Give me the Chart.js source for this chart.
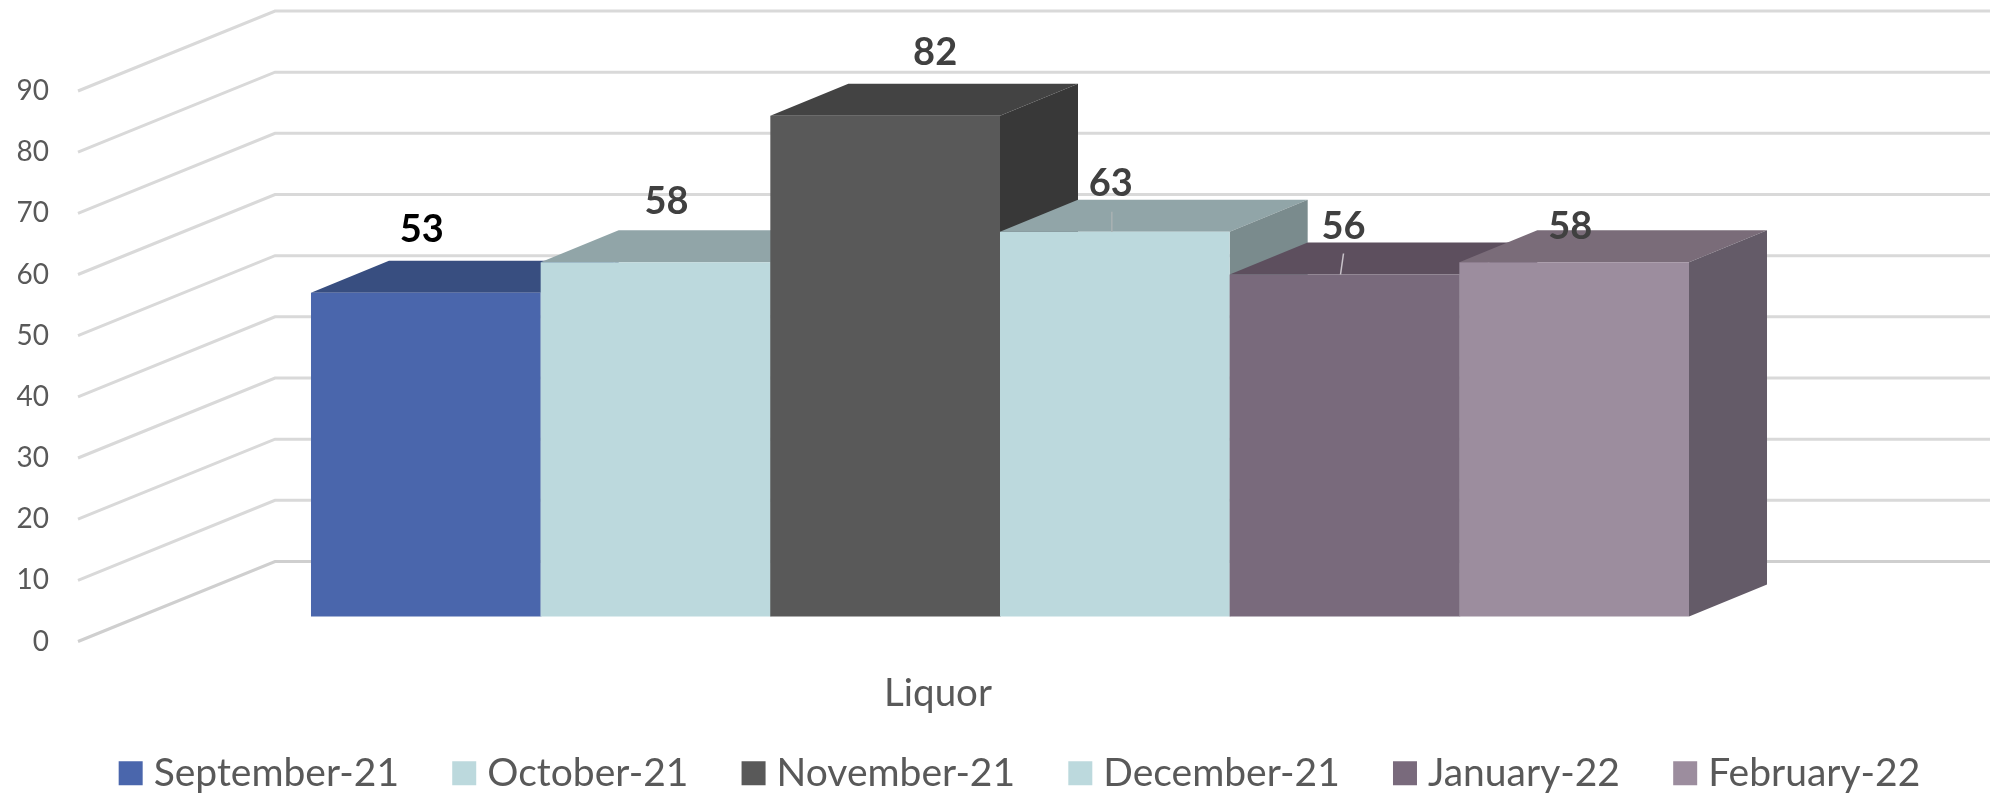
<!DOCTYPE html>
<html>
<head>
<meta charset="utf-8">
<style>html,body{margin:0;padding:0;background:#fff}canvas{display:block}</style>
<script src="https://cdn.jsdelivr.net/npm/chart.js@4"></script>
</head>
<body>
<canvas id="c" width="1990" height="796"></canvas>
<script>
const categories = ['Liquor'];
const months = ['September-21','October-21','November-21','December-21','January-22','February-22'];
const values = [53, 58, 82, 63, 56, 58];
const tickValues = [0,10,20,30,40,50,60,70,80,90];
const frontColors = ['#4a66ac','#bcd9dd','#595959','#bcd9dd','#796a7c','#9c8d9e'];
const topColors   = ['#384e80','#91a5a8','#434343','#91a5a8','#5d4f5e','#7a6c79'];
const sideColors  = ['#2f4270','#7a8b8d','#383838','#7a8b8d','#514553','#645b68'];
const labelColors = ['#000000','#404040','#404040','#404040','#404040','#404040'];
const labelDx = [-4, 11, 50, -4, -1, -4];
const labelDy = [-63, -60.5, -63, -48, -47.5, -35.5];
const FONT = 'Lato, "Open Sans", sans-serif';
const WALL_DX = 197, WALL_DY = 80, BAR_DX = 78, BAR_DY = 32, PAGE_RIGHT = 1990;

const scene3d = {
  id: 'scene3d',
  afterLayout(chart) {
    const lg = chart.legend;
    lg.left += 28.75; lg.right += 28.75;
    lg.top = 692; lg.bottom = 796;
  },
  beforeDatasetsDraw(chart) {
    const ctx = chart.ctx, y = chart.scales.yAxis, left = chart.chartArea.left;
    ctx.save();
    ctx.lineCap = 'butt';
    tickValues.forEach(v => {
      const p = y.getPixelForValue(v);
      ctx.beginPath();
      ctx.moveTo(left, p);
      ctx.lineTo(left + WALL_DX, p - WALL_DY);
      ctx.lineTo(PAGE_RIGHT, p - WALL_DY);
      ctx.lineWidth = 3;
      ctx.strokeStyle = v === 0 ? '#cfcfcf' : '#d9d9d9';
      ctx.stroke();
    });
    months.forEach((m, i) => {
      const bar = chart.getDatasetMeta(i).data[0];
      const x0 = bar.x - bar.width / 2, x1 = bar.x + bar.width / 2, t = bar.y, b = bar.base;
      ctx.fillStyle = topColors[i];
      ctx.beginPath();
      ctx.moveTo(x0, t); ctx.lineTo(x0 + BAR_DX, t - BAR_DY);
      ctx.lineTo(x1 + BAR_DX, t - BAR_DY); ctx.lineTo(x1, t);
      ctx.closePath(); ctx.fill();
      ctx.fillStyle = sideColors[i];
      ctx.beginPath();
      ctx.moveTo(x1, t); ctx.lineTo(x1 + BAR_DX, t - BAR_DY);
      ctx.lineTo(x1 + BAR_DX, b - BAR_DY); ctx.lineTo(x1, b);
      ctx.closePath(); ctx.fill();
      bar.draw(ctx, chart.chartArea);
    });
    ctx.restore();
    return false;
  },
  afterDraw(chart) {
    const ctx = chart.ctx;
    ctx.save();
    const bars = months.map((m, i) => chart.getDatasetMeta(i).data[0]);
    ctx.lineWidth = 1.5;
    ctx.strokeStyle = '#a9b2b3';
    ctx.beginPath(); ctx.moveTo(bars[3].x - 3, bars[3].y); ctx.lineTo(bars[3].x - 3, bars[3].y - 20); ctx.stroke();
    ctx.strokeStyle = '#c9c3ca';
    ctx.beginPath(); ctx.moveTo(bars[4].x - 4, bars[4].y); ctx.lineTo(bars[4].x - 1, bars[4].y - 21); ctx.stroke();
    ctx.font = 'bold 38px ' + FONT;
    ctx.textAlign = 'center';
    ctx.textBaseline = 'middle';
    bars.forEach((bar, i) => {
      ctx.fillStyle = labelColors[i];
      ctx.fillText(String(values[i]), bar.x + labelDx[i], bar.y + labelDy[i]);
    });
    ctx.restore();
  }
};

new Chart(document.getElementById('c'), {
  type: 'bar',
  data: {
    labels: categories,
    datasets: months.map((m, i) => ({
      label: m,
      data: [values[i]],
      backgroundColor: frontColors[i],
      borderWidth: 0,
      yAxisID: 'yBars',
      categoryPercentage: 0.7473,
      barPercentage: 1
    }))
  },
  options: {
    responsive: false,
    animation: false,
    layout: { padding: { top: 91, right: 0, bottom: -50, left: 0 } },
    scales: {
      x: {
        grid: { display: false, drawTicks: false },
        border: { display: false },
        afterFit(s) { s.height = 93.8; },
        ticks: { color: '#595959', font: { family: FONT, size: 38.5 }, padding: 29, labelOffset: -62, maxRotation: 0 }
      },
      yAxis: {
        axis: 'y', position: 'left', min: 0, max: 90,
        afterFit(s) { s.width = 78; },
        grid: { display: false, drawTicks: false },
        border: { display: false },
        ticks: { stepSize: 10, color: '#595959', font: { family: FONT, size: 28 }, padding: 29 }
      },
      yBars: {
        axis: 'y', position: 'right', min: -4.1, max: 86.05,
        afterFit(s) { s.width = 68; },
        grid: { display: false, drawTicks: false },
        border: { display: false },
        ticks: { display: false }
      }
    },
    plugins: {
      legend: {
        position: 'bottom',
        labels: {
          color: '#595959',
          font: { family: FONT, size: 39 },
          boxWidth: 7, boxHeight: 7, padding: 61.7,
          generateLabels(chart) {
            return months.map((m, i) => ({
              text: m, fillStyle: frontColors[i], strokeStyle: frontColors[i],
              lineWidth: 17, datasetIndex: i, fontColor: '#595959'
            }));
          }
        }
      },
      tooltip: { enabled: false }
    }
  },
  plugins: [scene3d]
});
</script>
</body>
</html>
